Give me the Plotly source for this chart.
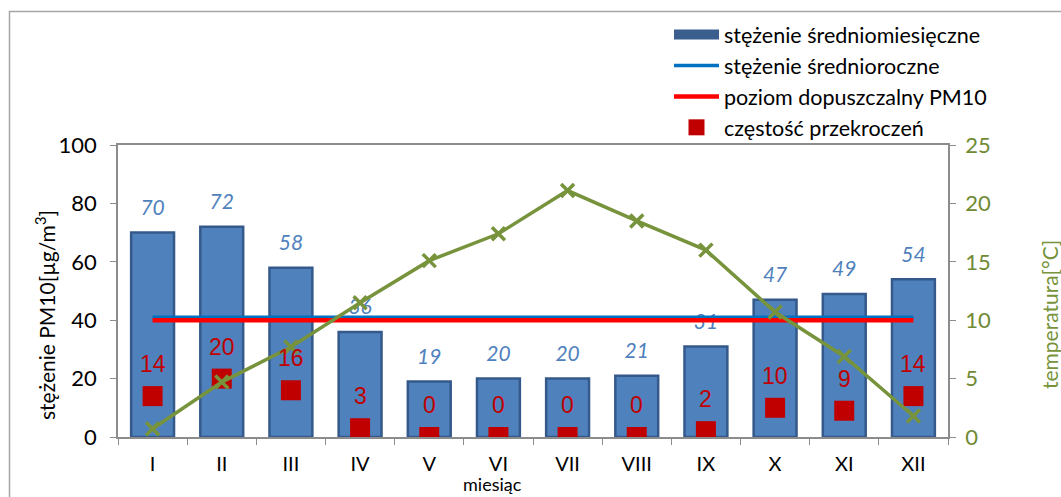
import plotly.graph_objects as go

months = ["I", "II", "III", "IV", "V", "VI", "VII", "VIII", "IX", "X", "XI", "XII"]
monthly_conc = [70, 72, 58, 36, 19, 20, 20, 21, 31, 47, 49, 54]
annual_conc = [41] * 12
limit_pm10 = [40] * 12
exceed_freq = [14, 20, 16, 3, 0, 0, 0, 0, 2, 10, 9, 14]
temperature = [0.7, 4.7, 7.7, 11.5, 15.1, 17.4, 21.1, 18.5, 16.0, 10.7, 6.9, 1.8]

FONT = "Lato, Noto Sans, sans-serif"
OLIVE = "#77933C"
OLIVE_TXT = "#6f8a33"
BLUE_BAR = "#4F81BD"
RED_SQ = "#C00000"
AX = "#8c8c8c"

fig = go.Figure()

fig.add_trace(go.Bar(
    x=months, y=monthly_conc, showlegend=False, hoverinfo="skip",
    marker=dict(color=BLUE_BAR, line=dict(color="#34598a", width=2.5)),
))
# bar value labels (drawn beneath lines)
fig.add_trace(go.Scatter(
    x=months, y=monthly_conc, mode="markers+text", showlegend=False,
    hoverinfo="skip", text=[str(v) for v in monthly_conc],
    textposition="top center",
    marker=dict(size=18, opacity=0),
    textfont=dict(family="Lato", size=21, color="#4F81BD", style="italic"),
))
# legend proxy for bars
fig.add_trace(go.Scatter(
    x=[None], y=[None], mode="lines", name="stężenie średniomiesięczne",
    line=dict(color="#3a5f8f", width=15), legendrank=1,
))
fig.add_trace(go.Scatter(
    x=months, y=annual_conc, mode="lines", name="stężenie średnioroczne",
    line=dict(color="#0070C0", width=3.5), legendrank=2,
    hoverinfo="skip",
))
fig.add_trace(go.Scatter(
    x=months, y=limit_pm10, mode="lines", name="poziom dopuszczalny PM10",
    line=dict(color="#FF0000", width=4.5), legendrank=3,
    hoverinfo="skip",
))
fig.add_trace(go.Scatter(
    x=months, y=exceed_freq, mode="markers", name="częstość przekroczeń",
    marker=dict(symbol="square", size=20, color=RED_SQ), legendrank=4,
))
fig.add_trace(go.Scatter(
    x=months, y=temperature, mode="lines+markers", yaxis="y2",
    showlegend=False, line=dict(color=OLIVE, width=3.5),
    marker=dict(symbol="x-thin", size=13, color=OLIVE,
                line=dict(width=3.5, color=OLIVE)),
))

for m, v in zip(months, exceed_freq):
    fig.add_annotation(x=m, y=v, xref="x", yref="y", text=str(v),
                       showarrow=False, yshift=32,
                       font=dict(family="Liberation Sans Narrow, Liberation Sans",
                                 size=23, color=RED_SQ))

L, R, T, B = 118, 113, 145, 60
W, H = 1061, 497
pw, ph = W - L - R, H - T - B

def px(xp):
    return (xp - L) / pw

def py(yp):
    return (H - B - yp) / ph

fig.add_annotation(x=px(492), y=py(484), xref="paper", yref="paper",
                   xanchor="center", yanchor="middle",
                   text="miesiąc", showarrow=False,
                   font=dict(family=FONT, size=18, color="#000"))
fig.add_annotation(x=px(45), y=py(315), xref="paper", yref="paper",
                   xanchor="center", yanchor="middle",
                   text="stężenie PM10[µg/m<sup>3</sup>]", textangle=-90,
                   showarrow=False, font=dict(family=FONT, size=21, color="#000"))
fig.add_annotation(x=px(1049), y=py(315), xref="paper", yref="paper",
                   xanchor="center", yanchor="middle",
                   text="temperatura[°C]", textangle=-90,
                   showarrow=False, font=dict(family=FONT, size=21, color=OLIVE))

fig.add_shape(type="rect", xref="paper", yref="paper",
              x0=px(9.5), y0=py(505), x1=px(1075), y1=py(11.5),
              line=dict(color="#a6a6a6", width=1.5), layer="below")

fig.update_layout(
    width=W, height=H,
    margin=dict(l=L, r=R, t=T, b=B),
    paper_bgcolor="white", plot_bgcolor="white",
    font=dict(family=FONT, size=21, color="#000"),
    bargap=0.38,
    showlegend=True,
    legend=dict(x=px(669), y=py(14), xanchor="left", yanchor="top",
                itemwidth=45, traceorder="normal",
                font=dict(family=FONT, size=21.5, color="#000"),
                bgcolor="rgba(0,0,0,0)"),
    xaxis=dict(range=[-0.5, 11.5], showline=True, linecolor=AX, linewidth=1.5,
               mirror=True, ticks="outside", ticklen=6, tickcolor=AX,
               tickson="boundaries", showgrid=False, tickfont=dict(size=20),
               ticklabelstandoff=8),
    yaxis=dict(range=[0, 100], dtick=20, showline=True, linecolor=AX,
               linewidth=1.5, ticks="outside", ticklen=6, tickcolor=AX,
               showgrid=False, zeroline=False, tickfont=dict(size=22),
               ticklabelstandoff=9),
    yaxis2=dict(range=[0, 25], dtick=5, overlaying="y", side="right",
                showline=True, linecolor=AX, linewidth=1.5, ticks="outside",
                ticklen=6, tickcolor=AX, showgrid=False, zeroline=False,
                tickfont=dict(size=22, color=OLIVE_TXT), ticklabelstandoff=5),
)

fig.write_html("out.html")
